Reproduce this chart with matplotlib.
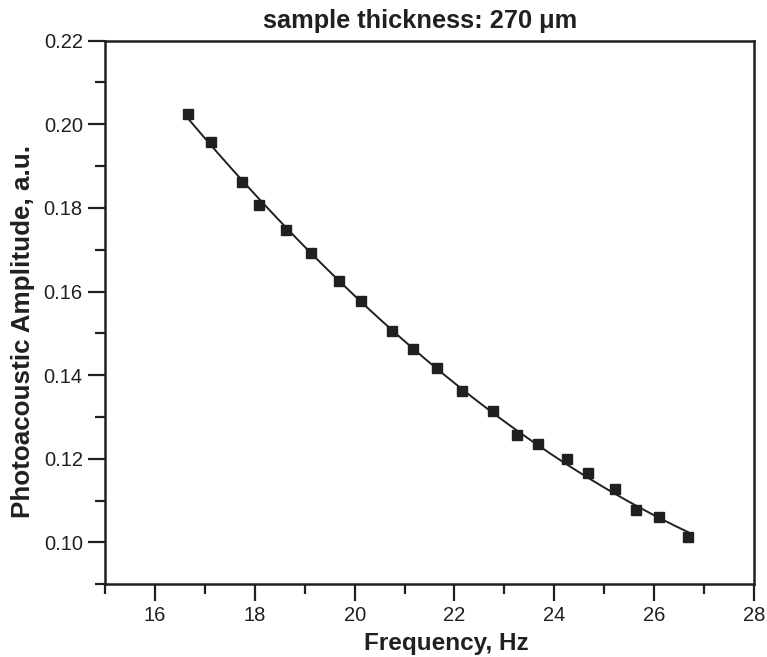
import numpy as np
from matplotlib import pyplot as plt
from matplotlib.ticker import MultipleLocator, FormatStrFormatter

freq = [16.66, 17.12, 17.75, 18.08, 18.63, 19.13, 19.68, 20.13, 20.75, 21.17, 21.64,
        22.16, 22.77, 23.25, 23.67, 24.25, 24.67, 25.21, 25.64, 26.09, 26.68]
amplitude = [0.2025, 0.1958, 0.1861, 0.1807, 0.1748, 0.1692, 0.1625, 0.1577, 0.1506, 0.1462, 0.1418,
             0.1363, 0.1314, 0.1257, 0.1236, 0.1199, 0.1165, 0.1128, 0.1077, 0.1060, 0.1014]

ink = '#231f20'
plt.rcParams['font.family'] = ['Liberation Sans', 'DejaVu Sans']
plt.rcParams['text.color'] = ink
plt.rcParams['axes.labelcolor'] = ink
plt.rcParams['xtick.color'] = ink
plt.rcParams['ytick.color'] = ink

fig = plt.figure(figsize=(7.67, 6.57), dpi=100)
ax = fig.add_axes([0.1369, 0.1107, 0.8462, 0.8274])

# smooth fit through the measurements
coef = np.polyfit(freq, amplitude, 2)
xf = np.linspace(min(freq), max(freq), 200)
ax.plot(xf, np.polyval(coef, xf), color=ink, lw=1.4, zorder=2)
ax.plot(freq, amplitude, 's', color=ink, markersize=7.2, zorder=3)

ax.set_xlim(15, 28)
ax.set_ylim(0.09, 0.22)
ax.xaxis.set_major_locator(MultipleLocator(2))
ax.xaxis.set_minor_locator(MultipleLocator(1))
ax.yaxis.set_major_locator(MultipleLocator(0.02))
ax.yaxis.set_minor_locator(MultipleLocator(0.01))
ax.yaxis.set_major_formatter(FormatStrFormatter('%.2f'))
ax.tick_params(which='major', direction='out', length=12, width=1.6, labelsize=14.5, pad=4)
ax.tick_params(which='minor', direction='out', length=7, width=1.6)
ax.tick_params(top=False, right=False)
for s in ax.spines.values():
    s.set_linewidth(1.8)
    s.set_color(ink)

ax.set_xlabel('Frequency, Hz', fontsize=17.5, fontweight='bold', labelpad=5)
ax.set_ylabel('Photoacoustic Amplitude, a.u.', fontsize=18.7, fontweight='bold', labelpad=6)
ax.xaxis.label.set_x(0.5265)
ax.yaxis.label.set_y(0.4647)
ax.set_title('sample thickness: 270 \u03bcm', fontsize=18.3, fontweight='bold', x=0.485, pad=9)

fig.savefig('out.png', dpi=100)
